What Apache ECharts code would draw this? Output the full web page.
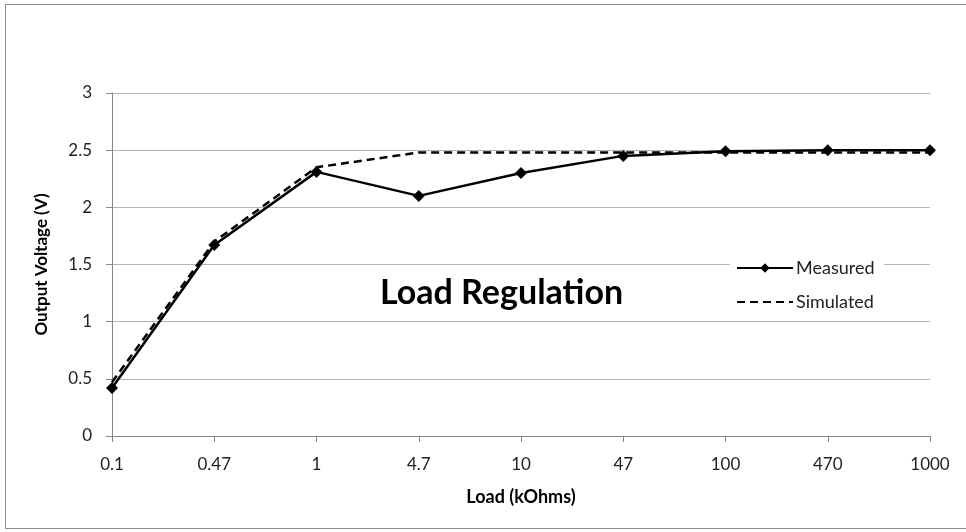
<!DOCTYPE html>
<html>
<head>
<meta charset="utf-8">
<script src="https://cdn.jsdelivr.net/npm/echarts@6/dist/echarts.min.js"></script>
<style>
html,body{margin:0;padding:0;background:#fff;}
#frame{position:absolute;left:5px;top:4px;width:970px;height:525px;border:1px solid #8c8c8c;box-sizing:border-box;}
#chart{position:absolute;left:0;top:0;width:966px;height:532px;}
</style>
</head>
<body>
<div id="frame"></div>
<div id="chart"></div>
<script>
const categories = ['0.1','0.47','1','4.7','10','47','100','470','1000'];
const measured = [0.42, 1.67, 2.31, 2.1, 2.3, 2.45, 2.49, 2.5, 2.5];
const simulated = [0.47, 1.7, 2.35, 2.48, 2.48, 2.48, 2.48, 2.48, 2.48];
const seriesNames = ['Measured', 'Simulated'];
const chartTitle = 'Load Regulation';
const xName = 'Load (kOhms)';
const yName = 'Output Voltage (V)';

const FONT = 'Lato';
const chart = echarts.init(document.getElementById('chart'));
chart.setOption({
  animation: false,
  backgroundColor: 'transparent',
  grid: {left: 112, right: 36, top: 93, bottom: 96},
  graphic: [{
    type: 'text', left: 380, top: 276, z: 10,
    style: {text: chartTitle, font: 'bold 34px ' + FONT, fill: '#000'}
  }],
  legend: {
    orient: 'vertical', left: 730, top: 255,
    itemWidth: 56, itemHeight: 12, itemGap: 16,
    padding: [4, 10, 4, 6],
    backgroundColor: '#fff',
    textStyle: {fontFamily: FONT, fontSize: 18, color: '#222', padding: [0,0,0,-2]},
    data: [{name: seriesNames[0]}, {name: seriesNames[1], itemStyle: {opacity: 0}}]
  },
  xAxis: {
    type: 'category', data: categories, boundaryGap: false,
    name: xName, nameLocation: 'middle', nameGap: 52,
    nameTextStyle: {fontFamily: FONT, fontSize: 18, fontWeight: 'bold', color: '#000'},
    axisLine: {lineStyle: {color: '#868686', width: 1}},
    axisTick: {show: true, length: 6, lineStyle: {color: '#868686'}},
    axisLabel: {fontFamily: FONT, fontSize: 17, color: '#222', margin: 20},
    splitLine: {show: false}
  },
  yAxis: {
    type: 'value', min: 0, max: 3, interval: 0.5,
    name: yName, nameLocation: 'middle', nameGap: 62, nameRotate: 90,
    nameTextStyle: {fontFamily: FONT, fontSize: 17, fontWeight: 'bold', color: '#000'},
    axisLine: {show: true, lineStyle: {color: '#868686', width: 1}},
    axisTick: {show: true, length: 6, lineStyle: {color: '#868686'}},
    axisLabel: {fontFamily: FONT, fontSize: 17, color: '#222', margin: 20},
    splitLine: {lineStyle: {color: '#b3b3b3', width: 1}}
  },
  series: [{
    name: seriesNames[0], type: 'line', data: measured,
    symbol: 'diamond', symbolSize: 12, z: 3,
    lineStyle: {color: '#000', width: 2.5},
    itemStyle: {color: '#000'}
  }, {
    name: seriesNames[1], type: 'line', data: simulated,
    symbol: 'none', z: 2,
    lineStyle: {color: '#000', width: 2.5, type: [8, 5]},
    itemStyle: {color: '#000'}
  }]
});
</script>
</body>
</html>
